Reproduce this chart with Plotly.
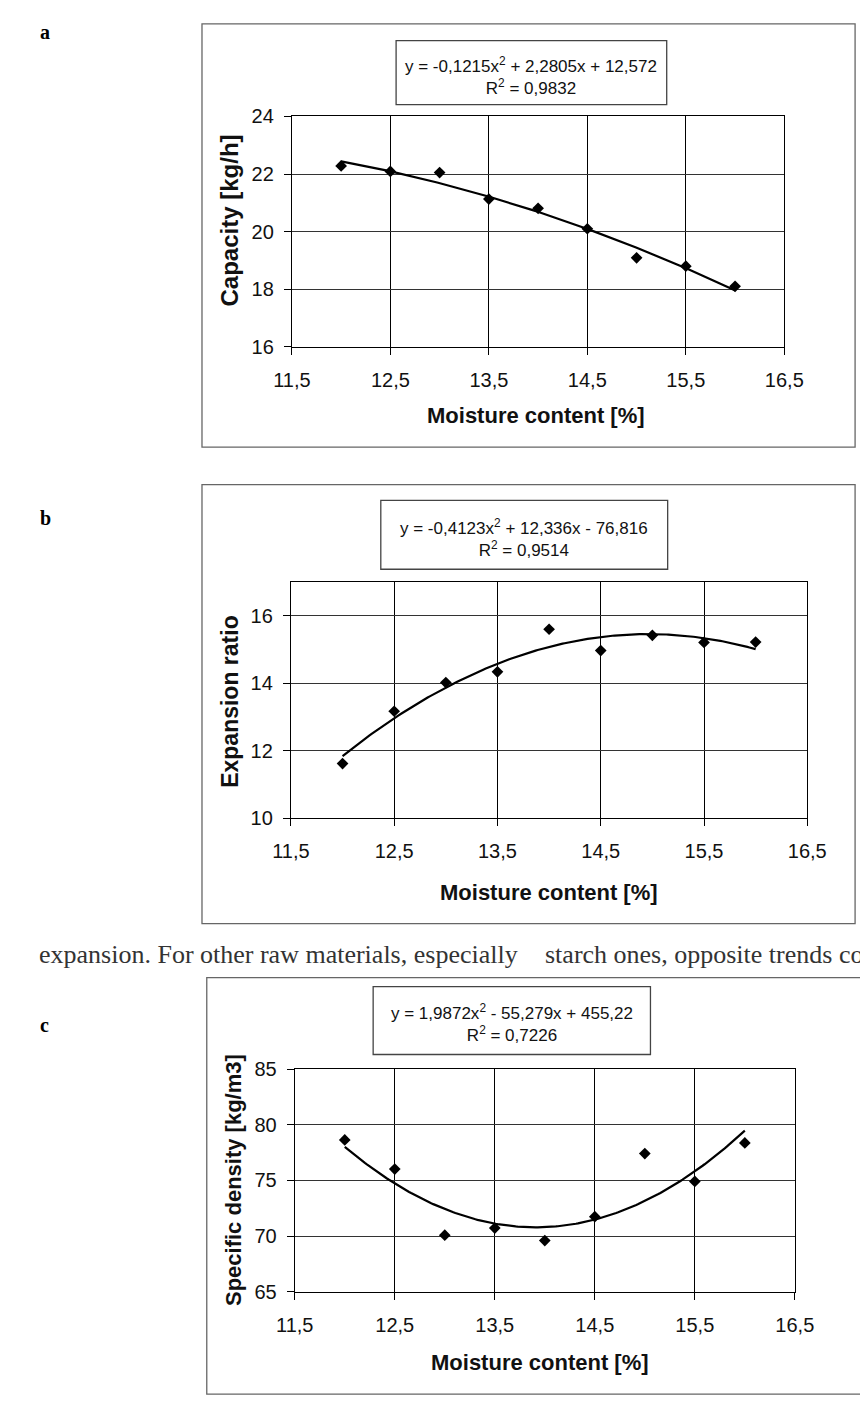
import numpy as np
import plotly.graph_objects as go

W, H = 868, 1402

# ---------------- data ----------------
moisture = [12.0, 12.5, 13.0, 13.5, 14.0, 14.5, 15.0, 15.5, 16.0]
capacity = [22.28, 22.09, 22.05, 21.13, 20.81, 20.10, 19.09, 18.80, 18.10]
expansion = [11.62, 13.17, 14.02, 14.34, 15.60, 14.97, 15.42, 15.21, 15.22]
density = [78.65, 76.03, 70.08, 70.72, 69.60, 71.75, 77.42, 74.92, 78.38]

fit_a = [-0.1215, 2.2805, 12.572]
fit_b = [-0.4123, 12.336, -76.816]
fit_c = [1.9872, -55.279, 455.22]

eq_a = "y = -0,1215x<sup>2</sup> + 2,2805x + 12,572<br>R<sup>2</sup> = 0,9832"
eq_b = "y = -0,4123x<sup>2</sup> + 12,336x - 76,816<br>R<sup>2</sup> = 0,9514"
eq_c = "y = 1,9872x<sup>2</sup> - 55,279x + 455,22<br>R<sup>2</sup> = 0,7226"

x_ticks = [11.5, 12.5, 13.5, 14.5, 15.5, 16.5]
x_ticktext = ["11,5", "12,5", "13,5", "14,5", "15,5", "16,5"]
ticks_a = [16, 18, 20, 22, 24]
ticks_b = [10, 12, 14, 16]
ticks_c = [65, 70, 75, 80, 85]

ytitle_a = "Capacity [kg/h]"
ytitle_b = "Expansion ratio"
ytitle_c = "Specific density [kg/m3]"
xtitle = "Moisture content [%]"
body_left = "expansion. For other raw materials, especially"
body_right = "starch ones, opposite trends cou"

# ---------------- helpers ----------------
def fx(p):
    return p / W

def fy(p):
    return 1 - p / H

SANS = "Liberation Sans, Arial, sans-serif"
SERIF = "Liberation Serif, Times New Roman, serif"

fig = go.Figure()

panels = [
    dict(y=capacity, fit=fit_a, yr=[16, 24], yt=ticks_a, box=(277, 792, 99, 333)),
    dict(y=expansion, fit=fit_b, yr=[10, 17], yt=ticks_b, box=(276, 816, 572, 812)),
    dict(y=density, fit=fit_c, yr=[65, 85], yt=ticks_c, box=(280, 803, 1067, 1293)),
]

xs = np.linspace(moisture[0], moisture[-1], 200)
for i, p in enumerate(panels, start=1):
    xa = "x" if i == 1 else f"x{i}"
    ya = "y" if i == 1 else f"y{i}"
    fig.add_trace(go.Scatter(x=xs, y=np.polyval(p["fit"], xs), mode="lines",
                             line=dict(color="black", width=2.2),
                             xaxis=xa, yaxis=ya, showlegend=False, hoverinfo="skip"))
    fig.add_trace(go.Scatter(x=moisture, y=p["y"], mode="markers",
                             marker=dict(symbol="diamond", size=9, color="black"),
                             xaxis=xa, yaxis=ya, showlegend=False))
    x0, x1, yt, yb = p["box"]
    xkey = "xaxis" if i == 1 else f"xaxis{i}"
    ykey = "yaxis" if i == 1 else f"yaxis{i}"
    fig.update_layout(**{
        xkey: dict(domain=[fx(x0), fx(x1)], anchor=ya, range=[11.5, 16.5],
                   tickvals=x_ticks, ticktext=x_ticktext, showgrid=True,
                   gridcolor="black", gridwidth=1, showline=True, mirror=True,
                   linecolor="black", linewidth=1.2, ticks="outside", ticklen=7,
                   tickcolor="black", zeroline=False, ticklabelstandoff=8,
                   tickfont=dict(family=SANS, size=20, color="#111")),
        ykey: dict(domain=[fy(yb), fy(yt)], anchor=xa, range=p["yr"],
                   tickvals=p["yt"], ticktext=[str(v) for v in p["yt"]],
                   showgrid=True, gridcolor="#333", gridwidth=1.4, showline=True,
                   mirror=True, linecolor="black", linewidth=1.2, ticks="outside",
                   ticklen=7, tickcolor="black", zeroline=False, ticklabelstandoff=6,
                   tickfont=dict(family=SANS, size=20, color="#111")),
    })

shapes = []
annotations = []

def rect(x0, y0, x1, y1, color="#666", width=1.3):
    shapes.append(dict(type="rect", xref="paper", yref="paper",
                       x0=fx(x0), x1=fx(x1), y0=fy(y1), y1=fy(y0),
                       line=dict(color=color, width=width), fillcolor="rgba(0,0,0,0)"))

# outer chart frames
rect(183, 5, 866, 435)
rect(183, 473, 866, 919)
rect(188, 974, 900, 1397)
# equation boxes
rect(386, 22, 669, 87, color="#444")
rect(370, 489, 670, 559, color="#444")
rect(362, 983, 652, 1052, color="#444")

def ann(text, x, y, size, family=SANS, bold=False, angle=0, xanchor="center",
        color="#111"):
    annotations.append(dict(text=f"<b>{text}</b>" if bold else text,
                            x=fx(x), y=fy(y), xref="paper", yref="paper",
                            showarrow=False, xanchor=xanchor, yanchor="middle",
                            textangle=angle, align="center",
                            font=dict(family=family, size=size, color=color)))

# equations
ann(eq_a, 527, 58, 17)
ann(eq_b, 520, 527, 17)
ann(eq_c, 507, 1020, 17)

# axis titles
ann(ytitle_a, 212, 205, 24, bold=True, angle=-90)
ann(ytitle_b, 212, 693, 23, bold=True, angle=-90)
ann(ytitle_c, 216, 1180, 22, bold=True, angle=-90)
ann(xtitle, 532, 403, 22, bold=True)
ann(xtitle, 546, 887, 22, bold=True)
ann(xtitle, 536, 1365, 22, bold=True)

# panel letters
ann("a", 12, 13, 20, family=SERIF, bold=True, xanchor="left", color="black")
ann("b", 12, 507, 20, family=SERIF, bold=True, xanchor="left", color="black")
ann("c", 12, 1022, 20, family=SERIF, bold=True, xanchor="left", color="black")

# body text line
ann(body_left, 10, 950, 26, family=SERIF, xanchor="left", color="#333")
ann(body_right, 540, 950, 26, family=SERIF, xanchor="left", color="#333")

fig.update_layout(width=W, height=H, margin=dict(l=0, r=0, t=0, b=0),
                  paper_bgcolor="white", plot_bgcolor="white",
                  shapes=shapes, annotations=annotations, showlegend=False)

fig.write_html("out.html")
